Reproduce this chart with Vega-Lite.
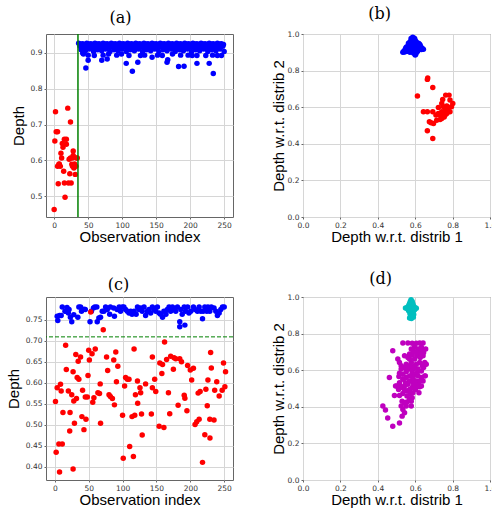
{
"$schema": "https://vega.github.io/schema/vega-lite/v6.json",
"padding": {"left": 5, "top": 5, "right": 0, "bottom": 0},
"config": {
 "view": {"stroke": "#666666", "strokeWidth": 1},
 "axis": {"domain": false, "grid": true, "gridColor": "#d6d6d6", "gridWidth": 1, "labelFont": "DejaVu Sans", "labelFontSize": 7.5, "labelColor": "#333333", "labelOverlap": false, "labelFlush": false, "labelBound": false, "tickColor": "#666666", "tickSize": 2, "titleFont": "Liberation Sans", "titleFontSize": 15, "titleFontWeight": "normal", "titleColor": "#000000"},
 "axisX": {"titlePadding": 1},
 "title": {"font": "DejaVu Serif", "fontSize": 16, "fontWeight": "normal", "color": "#000000"},
 "circle": {"size": 30, "opacity": 1}
},
"datasets": {
 "aG": [{"x":0,"y":0.463},{"x":1,"y":0.654},{"x":2,"y":0.736},{"x":3,"y":0.68},{"x":5,"y":0.68},{"x":5,"y":0.584},{"x":6,"y":0.535},{"x":7,"y":0.589},{"x":7.5,"y":0.59},{"x":9,"y":0.584},{"x":10,"y":0.62},{"x":11,"y":0.607},{"x":12,"y":0.647},{"x":13,"y":0.637},{"x":14,"y":0.57},{"x":15,"y":0.537},{"x":15,"y":0.659},{"x":16,"y":0.497},{"x":18,"y":0.659},{"x":18,"y":0.645},{"x":20,"y":0.746},{"x":21,"y":0.537},{"x":22,"y":0.603},{"x":23,"y":0.563},{"x":24,"y":0.707},{"x":25,"y":0.537},{"x":26,"y":0.589},{"x":27,"y":0.607},{"x":28,"y":0.626},{"x":28,"y":0.614},{"x":29,"y":0.579},{"x":30,"y":0.59},{"x":31,"y":0.561},{"x":32,"y":0.584},{"x":33,"y":0.607},{"x":34,"y":0.607},{"x":27,"y":0.584},{"x":24,"y":0.607}],
 "aF": [{"x":36,"y":0.927},{"x":39,"y":0.925},{"x":42,"y":0.926},{"x":45,"y":0.924},{"x":48,"y":0.927},{"x":51,"y":0.925},{"x":54,"y":0.926},{"x":57,"y":0.924},{"x":60,"y":0.927},{"x":63,"y":0.925},{"x":66,"y":0.926},{"x":69,"y":0.924},{"x":72,"y":0.927},{"x":75,"y":0.925},{"x":78,"y":0.926},{"x":81,"y":0.924},{"x":84,"y":0.927},{"x":87,"y":0.925},{"x":90,"y":0.926},{"x":93,"y":0.924},{"x":96,"y":0.927},{"x":99,"y":0.925},{"x":102,"y":0.926},{"x":105,"y":0.924},{"x":108,"y":0.927},{"x":111,"y":0.925},{"x":114,"y":0.926},{"x":117,"y":0.924},{"x":120,"y":0.927},{"x":123,"y":0.925},{"x":126,"y":0.926},{"x":129,"y":0.924},{"x":132,"y":0.927},{"x":135,"y":0.925},{"x":138,"y":0.926},{"x":141,"y":0.924},{"x":144,"y":0.927},{"x":147,"y":0.925},{"x":150,"y":0.926},{"x":153,"y":0.924},{"x":156,"y":0.927},{"x":159,"y":0.925},{"x":162,"y":0.926},{"x":165,"y":0.924},{"x":168,"y":0.927},{"x":171,"y":0.925},{"x":174,"y":0.926},{"x":177,"y":0.924},{"x":180,"y":0.927},{"x":183,"y":0.925},{"x":186,"y":0.926},{"x":189,"y":0.924},{"x":192,"y":0.927},{"x":195,"y":0.925},{"x":198,"y":0.926},{"x":201,"y":0.924},{"x":204,"y":0.927},{"x":207,"y":0.925},{"x":210,"y":0.926},{"x":213,"y":0.924},{"x":216,"y":0.927},{"x":219,"y":0.925},{"x":222,"y":0.926},{"x":225,"y":0.924},{"x":228,"y":0.927},{"x":231,"y":0.925},{"x":234,"y":0.926},{"x":237,"y":0.924},{"x":240,"y":0.927},{"x":243,"y":0.925},{"x":246,"y":0.926},{"x":249,"y":0.924},
 {"x":38,"y":0.919},{"x":41,"y":0.916},{"x":44,"y":0.921},{"x":47,"y":0.914},{"x":50,"y":0.918},{"x":53,"y":0.919},{"x":56,"y":0.916},{"x":59,"y":0.921},{"x":62,"y":0.914},{"x":65,"y":0.918},{"x":68,"y":0.919},{"x":71,"y":0.916},{"x":74,"y":0.921},{"x":77,"y":0.914},{"x":80,"y":0.918},{"x":83,"y":0.919},{"x":86,"y":0.916},{"x":89,"y":0.921},{"x":92,"y":0.914},{"x":95,"y":0.918},{"x":98,"y":0.919},{"x":101,"y":0.916},{"x":104,"y":0.921},{"x":107,"y":0.914},{"x":110,"y":0.918},{"x":113,"y":0.919},{"x":116,"y":0.916},{"x":119,"y":0.921},{"x":122,"y":0.914},{"x":125,"y":0.918},{"x":128,"y":0.919},{"x":131,"y":0.916},{"x":134,"y":0.921},{"x":137,"y":0.914},{"x":140,"y":0.918},{"x":143,"y":0.919},{"x":146,"y":0.916},{"x":149,"y":0.921},{"x":152,"y":0.914},{"x":155,"y":0.918},{"x":158,"y":0.919},{"x":161,"y":0.916},{"x":164,"y":0.921},{"x":167,"y":0.914},{"x":170,"y":0.918},{"x":173,"y":0.919},{"x":176,"y":0.916},{"x":179,"y":0.921},{"x":182,"y":0.914},{"x":185,"y":0.918},{"x":188,"y":0.919},{"x":191,"y":0.916},{"x":194,"y":0.921},{"x":197,"y":0.914},{"x":200,"y":0.918},{"x":203,"y":0.919},{"x":206,"y":0.916},{"x":209,"y":0.921},{"x":212,"y":0.914},{"x":215,"y":0.918},{"x":218,"y":0.919},{"x":221,"y":0.916},{"x":224,"y":0.921},{"x":227,"y":0.914},{"x":230,"y":0.918},{"x":233,"y":0.919},{"x":236,"y":0.916},{"x":239,"y":0.921},{"x":242,"y":0.914},{"x":245,"y":0.918},{"x":248,"y":0.919},
 {"x":40,"y":0.909},{"x":46,"y":0.906},{"x":52,"y":0.911},{"x":58,"y":0.904},{"x":64,"y":0.909},{"x":70,"y":0.906},{"x":76,"y":0.911},{"x":82,"y":0.904},{"x":88,"y":0.909},{"x":94,"y":0.906},{"x":100,"y":0.911},{"x":106,"y":0.904},{"x":112,"y":0.909},{"x":118,"y":0.906},{"x":124,"y":0.911},{"x":130,"y":0.904},{"x":136,"y":0.909},{"x":142,"y":0.906},{"x":148,"y":0.911},{"x":154,"y":0.904},{"x":160,"y":0.909},{"x":166,"y":0.906},{"x":172,"y":0.911},{"x":178,"y":0.904},{"x":184,"y":0.909},{"x":190,"y":0.906},{"x":196,"y":0.911},{"x":202,"y":0.904},{"x":208,"y":0.909},{"x":214,"y":0.906},{"x":220,"y":0.911},{"x":226,"y":0.904},{"x":232,"y":0.909},{"x":238,"y":0.906},{"x":244,"y":0.911},{"x":250,"y":0.904},
 {"x":46.6,"y":0.858},{"x":50,"y":0.88},{"x":50,"y":0.894},{"x":59,"y":0.893},{"x":70,"y":0.88},{"x":72,"y":0.894},{"x":78,"y":0.883},{"x":80,"y":0.897},{"x":92,"y":0.894},{"x":99,"y":0.897},{"x":106,"y":0.871},{"x":110,"y":0.893},{"x":115,"y":0.849},{"x":123,"y":0.874},{"x":127,"y":0.893},{"x":133,"y":0.894},{"x":144,"y":0.888},{"x":152,"y":0.894},{"x":159,"y":0.893},{"x":166,"y":0.874},{"x":167,"y":0.881},{"x":174,"y":0.897},{"x":183,"y":0.862},{"x":186,"y":0.894},{"x":191,"y":0.863},{"x":197,"y":0.894},{"x":203,"y":0.893},{"x":210,"y":0.871},{"x":210,"y":0.893},{"x":223,"y":0.893},{"x":228,"y":0.871},{"x":234,"y":0.843},{"x":233,"y":0.894},{"x":240,"y":0.893},{"x":246,"y":0.893},{"x":40,"y":0.91},{"x":42,"y":0.9},{"x":43,"y":0.897}],
 "bF": [{"x":0.534,"y":0.9},{"x":0.546,"y":0.916},{"x":0.555,"y":0.931},{"x":0.564,"y":0.949},{"x":0.573,"y":0.958},{"x":0.582,"y":0.971},{"x":0.587,"y":0.982},{"x":0.594,"y":0.971},{"x":0.605,"y":0.958},{"x":0.617,"y":0.949},{"x":0.626,"y":0.94},{"x":0.635,"y":0.922},{"x":0.644,"y":0.916},{"x":0.6,"y":0.885},{"x":0.605,"y":0.898},{"x":0.582,"y":0.903},{"x":0.564,"y":0.912},{"x":0.56,"y":0.925},{"x":0.57,"y":0.935},{"x":0.575,"y":0.945},{"x":0.58,"y":0.955},{"x":0.59,"y":0.96},{"x":0.598,"y":0.95},{"x":0.6,"y":0.94},{"x":0.61,"y":0.935},{"x":0.615,"y":0.925},{"x":0.62,"y":0.915},{"x":0.625,"y":0.928},{"x":0.585,"y":0.935},{"x":0.59,"y":0.925},{"x":0.595,"y":0.915},{"x":0.575,"y":0.92},{"x":0.57,"y":0.91},{"x":0.578,"y":0.912},{"x":0.588,"y":0.905},{"x":0.598,"y":0.905},{"x":0.606,"y":0.912},{"x":0.612,"y":0.905},{"x":0.555,"y":0.905},{"x":0.548,"y":0.908},{"x":0.565,"y":0.94},{"x":0.58,"y":0.965},{"x":0.592,"y":0.945},{"x":0.605,"y":0.945},{"x":0.618,"y":0.938},{"x":0.63,"y":0.93},{"x":0.64,"y":0.92},{"x":0.55,"y":0.925},{"x":0.583,"y":0.945},{"x":0.6,"y":0.965},{"x":0.61,"y":0.95},{"x":0.572,"y":0.9},{"x":0.592,"y":0.895},{"x":0.603,"y":0.89},{"x":0.617,"y":0.912},{"x":0.628,"y":0.918},{"x":0.562,"y":0.918},{"x":0.586,"y":0.915},{"x":0.596,"y":0.93},{"x":0.576,"y":0.93},{"x":0.608,"y":0.925},{"x":0.544,"y":0.902},{"x":0.538,"y":0.905},{"x":0.622,"y":0.945},{"x":0.633,"y":0.915},{"x":0.597,"y":0.975},{"x":0.578,"y":0.975},{"x":0.568,"y":0.95}],
 "bG": [{"x":0.665,"y":0.752},{"x":0.667,"y":0.759},{"x":0.694,"y":0.708},{"x":0.612,"y":0.661},{"x":0.763,"y":0.666},{"x":0.781,"y":0.666},{"x":0.747,"y":0.642},{"x":0.786,"y":0.639},{"x":0.801,"y":0.62},{"x":0.794,"y":0.602},{"x":0.742,"y":0.62},{"x":0.751,"y":0.602},{"x":0.76,"y":0.584},{"x":0.769,"y":0.606},{"x":0.776,"y":0.584},{"x":0.786,"y":0.575},{"x":0.724,"y":0.599},{"x":0.742,"y":0.575},{"x":0.733,"y":0.557},{"x":0.742,"y":0.538},{"x":0.76,"y":0.557},{"x":0.755,"y":0.547},{"x":0.733,"y":0.533},{"x":0.644,"y":0.575},{"x":0.665,"y":0.575},{"x":0.694,"y":0.575},{"x":0.676,"y":0.52},{"x":0.685,"y":0.515},{"x":0.698,"y":0.511},{"x":0.665,"y":0.471},{"x":0.694,"y":0.429},{"x":0.724,"y":0.566},{"x":0.769,"y":0.566},{"x":0.751,"y":0.566},{"x":0.715,"y":0.529},{"x":0.711,"y":0.557}],
 "cG": [{"x":1,"y":0.555},{"x":2,"y":0.434},{"x":3.5,"y":0.588},{"x":6,"y":0.454},{"x":7,"y":0.387},{"x":8.4,"y":0.596},{"x":9.4,"y":0.58},{"x":11,"y":0.454},{"x":12,"y":0.529},{"x":16,"y":0.689},{"x":17,"y":0.631},{"x":20,"y":0.58},{"x":22,"y":0.485},{"x":22.5,"y":0.529},{"x":25,"y":0.571},{"x":27,"y":0.626},{"x":27,"y":0.394},{"x":28,"y":0.556},{"x":29,"y":0.503},{"x":31,"y":0.667},{"x":32,"y":0.562},{"x":33,"y":0.612},{"x":34.5,"y":0.651},{"x":35.5,"y":0.608},{"x":38,"y":0.661},{"x":40,"y":0.519},{"x":41,"y":0.582},{"x":43,"y":0.488},{"x":45,"y":0.566},{"x":46,"y":0.513},{"x":48,"y":0.566},{"x":49,"y":0.617},{"x":50,"y":0.677},{"x":51,"y":0.654},{"x":53,"y":0.768},{"x":55,"y":0.669},{"x":56,"y":0.553},{"x":57.7,"y":0.564},{"x":59.7,"y":0.68},{"x":63.6,"y":0.576},{"x":66,"y":0.574},{"x":67,"y":0.597},{"x":67.5,"y":0.503},{"x":71.5,"y":0.726},{"x":76.4,"y":0.661},{"x":78,"y":0.629},{"x":80,"y":0.571},{"x":82,"y":0.567},{"x":85,"y":0.562},{"x":87,"y":0.654},{"x":88,"y":0.547},{"x":90,"y":0.673},{"x":91,"y":0.602},{"x":93,"y":0.639},{"x":100,"y":0.522},{"x":101,"y":0.42},{"x":103,"y":0.592},{"x":104.5,"y":0.612},{"x":107,"y":0.608},{"x":109.5,"y":0.608},{"x":110.5,"y":0.448},{"x":114,"y":0.519},{"x":116,"y":0.424},{"x":117,"y":0.68},{"x":118,"y":0.522},{"x":119,"y":0.571},{"x":122,"y":0.604},{"x":122.3,"y":0.551},{"x":125.7,"y":0.588},{"x":126.7,"y":0.576},{"x":128,"y":0.525},{"x":129,"y":0.475},{"x":134,"y":0.597},{"x":142.5,"y":0.525},{"x":144,"y":0.661},{"x":144,"y":0.588},{"x":147.4,"y":0.608},{"x":149,"y":0.579},{"x":154,"y":0.496},{"x":155,"y":0.647},{"x":158,"y":0.622},{"x":159,"y":0.643},{"x":161,"y":0.493},{"x":162,"y":0.697},{"x":165,"y":0.655},{"x":167.7,"y":0.576},{"x":169.6,"y":0.526},{"x":171,"y":0.663},{"x":175,"y":0.632},{"x":176,"y":0.659},{"x":178.5,"y":0.657},{"x":182,"y":0.546},{"x":184.4,"y":0.657},{"x":187,"y":0.65},{"x":191,"y":0.57},{"x":192,"y":0.563},{"x":195,"y":0.533},{"x":196,"y":0.641},{"x":200,"y":0.63},{"x":202,"y":0.606},{"x":204.6,"y":0.634},{"x":207,"y":0.5},{"x":209.5,"y":0.507},{"x":211.5,"y":0.575},{"x":213,"y":0.513},{"x":214.5,"y":0.579},{"x":218,"y":0.41},{"x":221.4,"y":0.476},{"x":223,"y":0.584},{"x":225,"y":0.545},{"x":226,"y":0.606},{"x":228.8,"y":0.513},{"x":229,"y":0.468},{"x":230,"y":0.672},{"x":231,"y":0.635},{"x":235,"y":0.511},{"x":236,"y":0.582},{"x":239,"y":0.602},{"x":242.6,"y":0.568},{"x":247,"y":0.582},{"x":249,"y":0.647},{"x":251,"y":0.59},{"x":252,"y":0.626}],
 "cF": [{"x":3.5,"y":0.758},{"x":4.4,"y":0.748},{"x":7,"y":0.76},{"x":9.4,"y":0.76},{"x":11,"y":0.78},{"x":15,"y":0.77},{"x":17,"y":0.77},{"x":18,"y":0.779},{"x":20,"y":0.766},{"x":21,"y":0.774},{"x":23,"y":0.756},{"x":25,"y":0.745},{"x":28,"y":0.762},{"x":34,"y":0.756},{"x":35.5,"y":0.78},{"x":38,"y":0.78},{"x":39.4,"y":0.77},{"x":43,"y":0.775},{"x":45,"y":0.774},{"x":52,"y":0.745},{"x":54,"y":0.77},{"x":57,"y":0.778},{"x":59,"y":0.78},{"x":62,"y":0.78},{"x":62.6,"y":0.745},{"x":65,"y":0.754},{"x":67.5,"y":0.756},{"x":70,"y":0.77},{"x":72.5,"y":0.77},{"x":75,"y":0.78},{"x":77.4,"y":0.774},{"x":81,"y":0.763},{"x":82,"y":0.78},{"x":87,"y":0.778},{"x":88,"y":0.758},{"x":92,"y":0.774},{"x":95,"y":0.78},{"x":97,"y":0.77},{"x":99.6,"y":0.78},{"x":102,"y":0.78},{"x":104.5,"y":0.774},{"x":107,"y":0.77},{"x":109.5,"y":0.766},{"x":112,"y":0.77},{"x":114,"y":0.763},{"x":117,"y":0.77},{"x":120,"y":0.763},{"x":122,"y":0.78},{"x":124,"y":0.774},{"x":126.7,"y":0.778},{"x":129,"y":0.77},{"x":131.7,"y":0.78},{"x":134,"y":0.76},{"x":136.6,"y":0.77},{"x":139,"y":0.774},{"x":141.5,"y":0.766},{"x":144,"y":0.78},{"x":146.4,"y":0.774},{"x":149,"y":0.77},{"x":151.4,"y":0.78},{"x":154,"y":0.766},{"x":156,"y":0.763},{"x":159,"y":0.756},{"x":161,"y":0.77},{"x":164,"y":0.763},{"x":166,"y":0.774},{"x":168.6,"y":0.78},{"x":171,"y":0.77},{"x":173.6,"y":0.78},{"x":176,"y":0.774},{"x":178.5,"y":0.77},{"x":181,"y":0.78},{"x":186,"y":0.774},{"x":188,"y":0.763},{"x":191,"y":0.78},{"x":193,"y":0.77},{"x":196,"y":0.78},{"x":198,"y":0.766},{"x":200.7,"y":0.77},{"x":204.6,"y":0.78},{"x":207,"y":0.774},{"x":210.5,"y":0.77},{"x":213,"y":0.78},{"x":215.5,"y":0.77},{"x":218,"y":0.752},{"x":219,"y":0.77},{"x":221.4,"y":0.78},{"x":224.4,"y":0.77},{"x":226,"y":0.78},{"x":228.8,"y":0.77},{"x":231,"y":0.78},{"x":235,"y":0.778},{"x":237.7,"y":0.77},{"x":240,"y":0.76},{"x":242.6,"y":0.766},{"x":245,"y":0.774},{"x":247.5,"y":0.78},{"x":250,"y":0.78},{"x":184.4,"y":0.733},{"x":184.4,"y":0.745},{"x":192,"y":0.737}],
 "dF": [{"x":0.578,"y":0.985},{"x":0.574,"y":0.975},{"x":0.584,"y":0.975},{"x":0.57,"y":0.965},{"x":0.58,"y":0.965},{"x":0.588,"y":0.962},{"x":0.566,"y":0.955},{"x":0.576,"y":0.955},{"x":0.586,"y":0.952},{"x":0.592,"y":0.95},{"x":0.56,"y":0.945},{"x":0.548,"y":0.94},{"x":0.556,"y":0.938},{"x":0.568,"y":0.942},{"x":0.578,"y":0.94},{"x":0.59,"y":0.94},{"x":0.6,"y":0.942},{"x":0.606,"y":0.938},{"x":0.572,"y":0.93},{"x":0.584,"y":0.93},{"x":0.594,"y":0.928},{"x":0.565,"y":0.925},{"x":0.578,"y":0.92},{"x":0.588,"y":0.918},{"x":0.572,"y":0.91},{"x":0.583,"y":0.908},{"x":0.592,"y":0.905},{"x":0.575,"y":0.898},{"x":0.588,"y":0.895},{"x":0.57,"y":0.885},{"x":0.58,"y":0.882},{"x":0.59,"y":0.89},{"x":0.562,"y":0.932},{"x":0.597,"y":0.932}],
 "dG": [{"x":0.427,"y":0.404},{"x":0.441,"y":0.382},{"x":0.453,"y":0.339},{"x":0.48,"y":0.294},{"x":0.516,"y":0.312},{"x":0.53,"y":0.349},{"x":0.543,"y":0.367},{"x":0.534,"y":0.385},{"x":0.525,"y":0.404},{"x":0.552,"y":0.404},{"x":0.579,"y":0.404},{"x":0.584,"y":0.45},{"x":0.573,"y":0.468},{"x":0.556,"y":0.459},{"x":0.534,"y":0.473},{"x":0.516,"y":0.462},{"x":0.489,"y":0.462},{"x":0.502,"y":0.514},{"x":0.495,"y":0.514},{"x":0.462,"y":0.56},{"x":0.516,"y":0.532},{"x":0.525,"y":0.51},{"x":0.543,"y":0.514},{"x":0.561,"y":0.523},{"x":0.57,"y":0.541},{"x":0.588,"y":0.55},{"x":0.606,"y":0.541},{"x":0.618,"y":0.523},{"x":0.624,"y":0.51},{"x":0.633,"y":0.514},{"x":0.642,"y":0.541},{"x":0.651,"y":0.569},{"x":0.62,"y":0.477},{"x":0.602,"y":0.495},{"x":0.584,"y":0.505},{"x":0.48,"y":0.706},{"x":0.507,"y":0.661},{"x":0.516,"y":0.642},{"x":0.534,"y":0.749},{"x":0.561,"y":0.749},{"x":0.584,"y":0.747},{"x":0.606,"y":0.747},{"x":0.624,"y":0.749},{"x":0.642,"y":0.749},{"x":0.633,"y":0.725},{"x":0.615,"y":0.716},{"x":0.597,"y":0.725},{"x":0.579,"y":0.716},{"x":0.57,"y":0.688},{"x":0.597,"y":0.661},{"x":0.609,"y":0.679},{"x":0.624,"y":0.697},{"x":0.642,"y":0.679},{"x":0.651,"y":0.642},{"x":0.659,"y":0.633},{"x":0.645,"y":0.615},{"x":0.633,"y":0.596},{"x":0.615,"y":0.606},{"x":0.597,"y":0.624},{"x":0.579,"y":0.642},{"x":0.552,"y":0.633},{"x":0.543,"y":0.615},{"x":0.525,"y":0.606},{"x":0.516,"y":0.583},{"x":0.534,"y":0.578},{"x":0.552,"y":0.591},{"x":0.57,"y":0.606},{"x":0.584,"y":0.587},{"x":0.602,"y":0.578},{"x":0.615,"y":0.569},{"x":0.633,"y":0.56},{"x":0.57,"y":0.569},{"x":0.588,"y":0.56},{"x":0.552,"y":0.56},{"x":0.534,"y":0.55},{"x":0.513,"y":0.565},{"x":0.525,"y":0.624},{"x":0.561,"y":0.67},{"x":0.543,"y":0.679},{"x":0.584,"y":0.683},{"x":0.624,"y":0.642},{"x":0.627,"y":0.67},{"x":0.638,"y":0.624},{"x":0.606,"y":0.633},{"x":0.591,"y":0.606},{"x":0.561,"y":0.615},{"x":0.573,"y":0.624},{"x":0.548,"y":0.532},{"x":0.57,"y":0.495},{"x":0.556,"y":0.486},{"x":0.543,"y":0.492},{"x":0.53,"y":0.505},{"x":0.511,"y":0.495},{"x":0.588,"y":0.532},{"x":0.609,"y":0.518},{"x":0.588,"y":0.477},{"x":0.597,"y":0.523},{"x":0.579,"y":0.431},{"x":0.556,"y":0.426},{"x":0.57,"y":0.44},{"x":0.53,"y":0.431},{"x":0.543,"y":0.422},{"x":0.624,"y":0.541},{"x":0.611,"y":0.587},{"x":0.654,"y":0.569},{"x":0.57,"y":0.661},{"x":0.588,"y":0.706},{"x":0.606,"y":0.697},{"x":0.633,"y":0.716},{"x":0.656,"y":0.716},{"x":0.645,"y":0.697}]
},
"columns": 2,
"spacing": {"row": 80, "column": 70},
"bounds": "flush",
"concat": [
 {"width": 187, "height": 183,
  "title": {"text": "(a)", "dx": -19, "offset": 7},
  "layer": [
   {"data": {"name": "aF"}, "mark": {"type": "circle", "color": "#0000ff"},
    "encoding": {
     "x": {"field": "x", "type": "quantitative", "scale": {"domain": [-12, 263], "nice": false, "zero": false}, "axis": {"title": "Observation index", "values": [0, 50, 100, 150, 200, 250], "tickCount": 20, "labelOverlap": false}},
     "y": {"field": "y", "type": "quantitative", "scale": {"domain": [0.442, 0.953], "nice": false, "zero": false}, "axis": {"title": "Depth", "values": [0.5, 0.6, 0.7, 0.8, 0.9], "tickCount": 20, "format": ".1f", "labelOverlap": false}}}},
   {"data": {"name": "aG"}, "mark": {"type": "circle", "color": "#ff0000"},
    "encoding": {"x": {"field": "x", "type": "quantitative"}, "y": {"field": "y", "type": "quantitative"}}},
   {"data": {"values": [{"x": 35}]}, "mark": {"type": "rule", "color": "#008000", "strokeWidth": 1.5},
    "encoding": {"x": {"field": "x", "type": "quantitative"}}}
  ]},
 {"width": 187, "height": 183,
  "title": {"text": "(b)", "dx": -17, "offset": 8},
  "layer": [
   {"data": {"name": "bF"}, "mark": {"type": "circle", "color": "#0000ff"},
    "encoding": {
     "x": {"field": "x", "type": "quantitative", "scale": {"domain": [0, 1], "nice": false}, "axis": {"title": "Depth w.r.t. distrib 1", "values": [0, 0.2, 0.4, 0.6, 0.8, 1], "tickCount": 20, "format": ".1f", "labelOverlap": false}},
     "y": {"field": "y", "type": "quantitative", "scale": {"domain": [0, 1], "nice": false}, "axis": {"title": "Depth w.r.t. distrib 2", "values": [0, 0.2, 0.4, 0.6, 0.8, 1], "tickCount": 20, "format": ".1f", "titlePadding": 1, "labelOverlap": false}}}},
   {"data": {"name": "bG"}, "mark": {"type": "circle", "color": "#ff0000"},
    "encoding": {"x": {"field": "x", "type": "quantitative"}, "y": {"field": "y", "type": "quantitative"}}}
  ]},
 {"width": 187, "height": 183,
  "title": {"text": "(c)", "dx": -21, "offset": 4},
  "layer": [
   {"data": {"name": "cF"}, "mark": {"type": "circle", "color": "#0000ff"},
    "encoding": {
     "x": {"field": "x", "type": "quantitative", "scale": {"domain": [-13, 263], "nice": false, "zero": false}, "axis": {"title": "Observation index", "values": [0, 50, 100, 150, 200, 250], "tickCount": 20, "labelOverlap": false}},
     "y": {"field": "y", "type": "quantitative", "scale": {"domain": [0.368, 0.804], "nice": false, "zero": false}, "axis": {"title": "Depth", "values": [0.4, 0.45, 0.5, 0.55, 0.6, 0.65, 0.7, 0.75], "tickCount": 20, "format": ".2f", "labelOverlap": false}}}},
   {"data": {"name": "cG"}, "mark": {"type": "circle", "color": "#ff0000"},
    "encoding": {"x": {"field": "x", "type": "quantitative"}, "y": {"field": "y", "type": "quantitative"}}},
   {"data": {"values": [{"y": 0.709}]}, "mark": {"type": "rule", "color": "#008000", "strokeWidth": 1, "strokeDash": [4, 2]},
    "encoding": {"y": {"field": "y", "type": "quantitative"}}}
  ]},
 {"width": 187, "height": 183,
  "title": {"text": "(d)", "dx": -16, "offset": 6},
  "layer": [
   {"data": {"name": "dF"}, "mark": {"type": "circle", "color": "#00bfbf"},
    "encoding": {
     "x": {"field": "x", "type": "quantitative", "scale": {"domain": [0, 1], "nice": false}, "axis": {"title": "Depth w.r.t. distrib 1", "values": [0, 0.2, 0.4, 0.6, 0.8, 1], "tickCount": 20, "format": ".1f", "labelOverlap": false}},
     "y": {"field": "y", "type": "quantitative", "scale": {"domain": [0, 1], "nice": false}, "axis": {"title": "Depth w.r.t. distrib 2", "values": [0, 0.2, 0.4, 0.6, 0.8, 1], "tickCount": 20, "format": ".1f", "titlePadding": 1, "labelOverlap": false}}}},
   {"data": {"name": "dG"}, "mark": {"type": "circle", "color": "#bf00bf"},
    "encoding": {"x": {"field": "x", "type": "quantitative"}, "y": {"field": "y", "type": "quantitative"}}}
  ]}
]
}
